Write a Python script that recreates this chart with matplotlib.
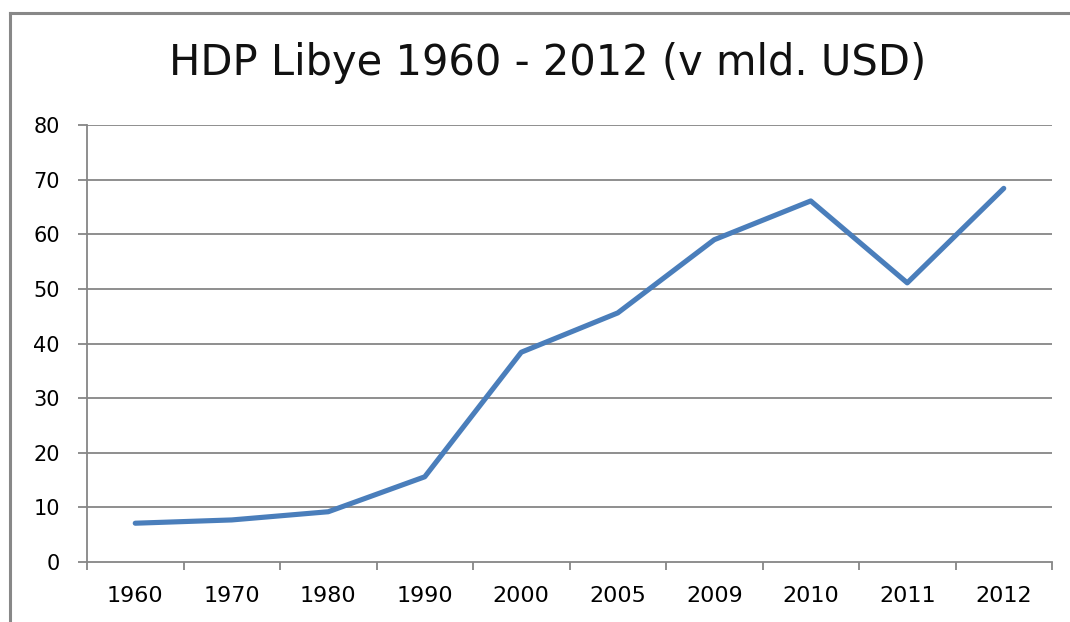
import matplotlib
matplotlib.use("Agg")
import matplotlib.pyplot as plt
from matplotlib.lines import Line2D
import numpy as np

categories = ["1960", "1970", "1980", "1990", "2000", "2005", "2009", "2010", "2011", "2012"]
gdp = [7.1, 7.7, 9.2, 15.6, 38.4, 45.6, 59.0, 66.1, 51.1, 68.4]
yticks = [0, 10, 20, 30, 40, 50, 60, 70, 80]
title = "HDP Libye 1960 - 2012 (v mld. USD)"

W, H = 1070, 622
fig = plt.figure(figsize=(W / 100, H / 100), dpi=100)
plt.rcParams['font.family'] = ['DejaVu Sans']

ax = fig.add_axes([87 / W, 1 - 562 / H, (1052 - 87) / W, (562 - 125) / H])

x = np.arange(len(categories))
ax.plot(x, gdp, color="#4a7ebb", linewidth=3.7, solid_joinstyle="round", solid_capstyle="round")

grid_col = "#868686"
ax.set_ylim(0, 80)
ax.set_xlim(-0.5, len(categories) - 0.5)
ax.set_yticks(yticks)
ax.set_yticklabels([str(v) for v in yticks], fontsize=15)
for v in yticks[1:]:
    ax.axhline(v, color=grid_col, linewidth=1.3, zorder=0)

ax.set_xticks(np.arange(-0.5, len(categories), 1.0))
ax.set_xticklabels([])
ax.set_xticks(x, minor=True)
ax.set_xticklabels(categories, minor=True, fontsize=16)
ax.tick_params(axis="x", which="major", length=6, width=1.3, color=grid_col)
ax.tick_params(axis="x", which="minor", length=0, pad=17)
ax.tick_params(axis="y", length=6.5, width=1.3, color=grid_col, pad=13)

for s in ["top", "right"]:
    ax.spines[s].set_visible(False)
for s in ["left", "bottom"]:
    ax.spines[s].set_color(grid_col)
    ax.spines[s].set_linewidth(1.3)

fig.text(548 / W, 1 - 63 / H, title, ha="center", va="center", fontsize=30, color="#111111")

fig.add_artist(Line2D([10 / W, 10 / W], [0, 1 - 13 / H], transform=fig.transFigure, color="#888888", linewidth=2.2))
fig.add_artist(Line2D([10 / W, 1], [1 - 13 / H, 1 - 13 / H], transform=fig.transFigure, color="#888888", linewidth=2.2))

fig.savefig("out.png", dpi=100)
